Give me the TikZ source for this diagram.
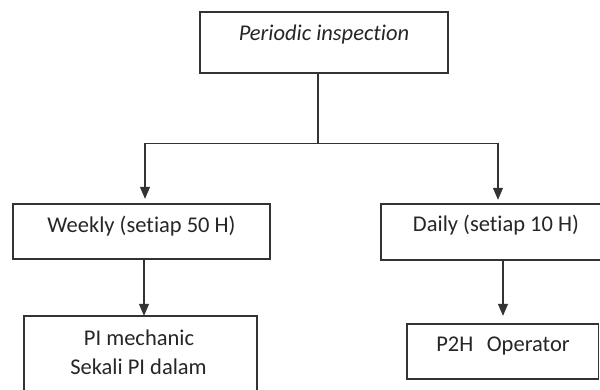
\documentclass[tikz,border=0pt]{standalone}
\usepackage{fontspec}
\setmainfont{Carlito}[Ligatures=NoCommon]
\usetikzlibrary{arrows.meta}
\begin{document}
\begin{tikzpicture}[x=1pt,y=-1pt,
  boxl/.style={draw=black!80,line width=1.1pt},
  lbl/.style={anchor=base,inner sep=0pt,text=black!85,font=\fontsize{22.5}{28}\selectfont},
  conn/.style={draw=black!80,line width=1.1pt},
  arr/.style={conn,-{Triangle[width=10pt,length=12pt]}}]
\clip (0,0) rectangle (600,390);
\fill[white] (0,0) rectangle (600,390);
% boxes
\draw[boxl] (200,12) rectangle (448,73);
\coordinate (topS) at (318,73);
\draw[boxl] (13,204) rectangle (270,259);
\draw[boxl] (381,204) rectangle (603,260);
\draw[boxl] (24,316) rectangle (257,400);
\draw[boxl] (407,324) rectangle (598.5,379);
% named box nodes for connectors
\node[inner sep=0pt,minimum width=248,minimum height=61] (top) at (324,42.5) {};
\node[inner sep=0pt,minimum width=257,minimum height=55] (weekly) at (141.5,231.5) {};
\node[inner sep=0pt,minimum width=222,minimum height=56] (daily) at (492,232) {};
\node[inner sep=0pt,minimum width=233,minimum height=84] (pi) at (140.5,358) {};
\node[inner sep=0pt,minimum width=191.5,minimum height=55] (p2h) at (502.75,351.5) {};
% labels
\node[lbl] (tl) at (324,41) {\textit{Periodic inspection}};
\node[lbl] (wl) at (141.5,233) {Weekly (setiap 50 H)};
\node[lbl] (dl) at (496,232) {Daily (setiap 10 H)};
\node[lbl] (pl1) at (139,345.5) {PI mechanic};
\node[lbl] (pl2) at (138.5,374) {Sekali PI dalam};
\node[lbl] (ol) at (503,351.5) {P2H\hspace{0.6em}Operator};
% connectors
\coordinate (j) at (318,143.5);
\coordinate (jl) at (145,143.5);
\coordinate (jr) at (498,143.5);
\draw[conn] (topS) -- (j);
\draw[conn] (jl) -- (jr);
\draw[arr,shorten >=5pt] (jl) -- (jl |- weekly.north);
\draw[arr,shorten >=4pt] (jr) -- (jr |- daily.north);
\draw[arr] (144,259) coordinate (wb) -- (wb |- pi.north);
\draw[arr,shorten >=8pt] (503,260) coordinate (db) -- (db |- p2h.north);
\end{tikzpicture}
\end{document}
